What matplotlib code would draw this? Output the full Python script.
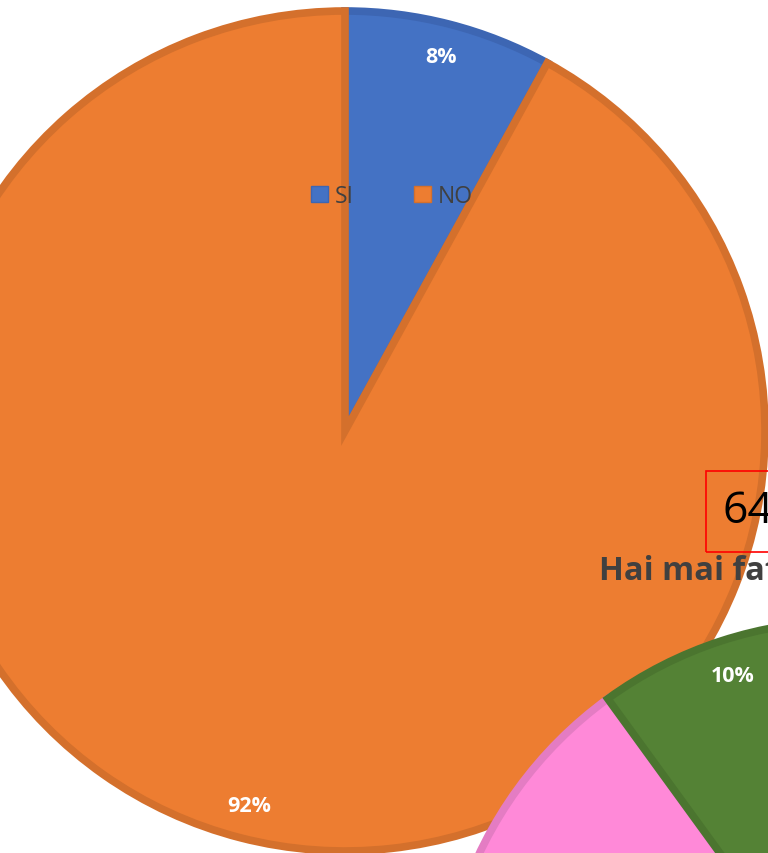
import matplotlib
matplotlib.use("Agg")
import matplotlib.pyplot as plt
from matplotlib.patches import Rectangle, Patch

# ---- data ----
pie1_labels = ["SI", "NO"]
pie1_values = [8, 92]
pie1_colors = ["#4472C4", "#ED7D31"]
pie1_edges = ["#3D66B3", "#D4702C"]

pie2_labels = ["Altro", "Mai", "Sì"]
pie2_values = [70, 20, 10]
pie2_colors = ["#A5A5A5", "#FF89D8", "#548235"]
pie2_edges = ["#949494", "#E47CC3", "#4B752F"]

title2 = "Hai mai fatto uso di sostanze?"
box_text = "64"

W, H = 768, 854
fig = plt.figure(figsize=(W / 100, H / 100), dpi=100)
ax = fig.add_axes([0, 0, 1, 1])

font = ["Open Sans", "DejaVu Sans"]

def pct(v):
    return f"{v:.0f}%"

# first pie
w1, t1, a1 = ax.pie(pie1_values, colors=pie1_colors, startangle=90, counterclock=False,
                    center=(345, H - 432), radius=420, autopct=pct, pctdistance=0.92,
                    frame=True,
                    wedgeprops=dict(linewidth=5.5),
                    textprops=dict(color="white", fontsize=15.5, fontweight="bold", family=font))
for w, e in zip(w1, pie1_edges):
    w.set_edgecolor(e)

leg = ax.legend(handles=[Patch(facecolor=c, edgecolor=e, linewidth=1) for c, e in zip(pie1_colors, pie1_edges)],
                labels=pie1_labels, loc="center", bbox_to_anchor=(392 / W, 1 - 197 / H),
                ncol=2, frameon=False, handlelength=0.75, handleheight=0.75, handletextpad=0.3,
                columnspacing=2.6, prop=dict(family=font, size=16.5))
for t in leg.get_texts():
    t.set_color("#404040")

# second chart (partially visible)
w2, t2, a2 = ax.pie(pie2_values, colors=pie2_colors, startangle=90, counterclock=False,
                    center=(847, H - 1029), radius=407, autopct=pct, pctdistance=0.91,
                    frame=True,
                    wedgeprops=dict(linewidth=5.5),
                    textprops=dict(color="white", fontsize=15.5, fontweight="bold", family=font))
for w, e in zip(w2, pie2_edges):
    w.set_edgecolor(e)
# labels of the slices lying outside the visible area
for a in a2[:-1]:
    a.set_visible(False)

ax.text(599, H - 571, title2, fontsize=23.5, fontweight="bold", color="#404040",
        family=font, ha="left", va="center")
ax.add_patch(Rectangle((706, H - 553), 120, 81, fill=False, edgecolor="#FF0000", linewidth=1.2))
ax.text(723, H - 512, box_text, fontsize=32, color="black", family=font, ha="left", va="center")

ax.set_xlim(0, W)
ax.set_ylim(0, H)
ax.axis("off")

fig.savefig("out.png", dpi=100)
